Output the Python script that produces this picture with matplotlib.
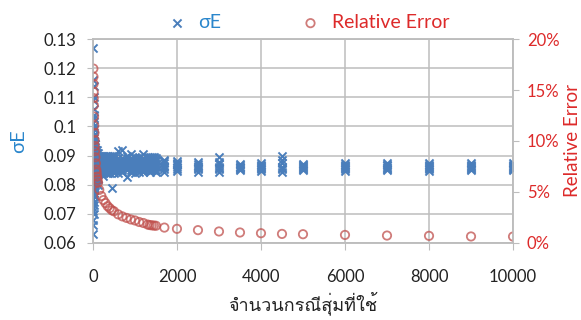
import matplotlib
matplotlib.use("Agg")
from matplotlib import pyplot as plt
from matplotlib import font_manager
from matplotlib.ft2font import FT2Font
from matplotlib.ticker import FuncFormatter

# sample sizes (number of random cases)
n_cases = [10, 12, 14, 16, 18, 20, 25, 30, 35, 40, 45, 50, 60, 70, 80, 90, 100,
           110, 120, 150, 200, 250, 300, 350, 400, 450, 500, 600, 700, 800, 900,
           1000, 1100, 1200, 1300, 1350, 1400, 1450, 1500, 1700, 2000, 2500,
           3000, 3500, 4000, 4500, 5000, 6000, 7000, 8000, 9000, 10000]

# sigma E from repeated runs at each sample size
sigma_e = [
    [0.127, 0.063, 0.066, 0.075, 0.098, 0.082, 0.109, 0.071],
    [0.116, 0.072, 0.084, 0.091, 0.079, 0.101, 0.068, 0.088],
    [0.114, 0.077, 0.093, 0.086, 0.070, 0.104, 0.081, 0.095],
    [0.110, 0.074, 0.089, 0.097, 0.083, 0.078, 0.092, 0.086],
    [0.106, 0.076, 0.091, 0.084, 0.099, 0.080, 0.087, 0.073],
    [0.103, 0.078, 0.088, 0.094, 0.082, 0.090, 0.076, 0.085],
    [0.100, 0.079, 0.087, 0.092, 0.084, 0.096, 0.081, 0.089],
    [0.097, 0.080, 0.090, 0.086, 0.083, 0.093, 0.077, 0.088],
    [0.095, 0.081, 0.087, 0.091, 0.084, 0.089, 0.079, 0.093],
    [0.094, 0.082, 0.088, 0.085, 0.090, 0.086, 0.080, 0.092],
    [0.093, 0.083, 0.089, 0.086, 0.091, 0.084, 0.088, 0.081],
    [0.092, 0.083, 0.087, 0.090, 0.085, 0.088, 0.082, 0.094],
    [0.091, 0.084, 0.088, 0.086, 0.090, 0.083, 0.089, 0.087],
    [0.092, 0.085, 0.087, 0.089, 0.084, 0.090, 0.086, 0.082],
    [0.091, 0.084, 0.088, 0.086, 0.090, 0.085, 0.087, 0.083],
    [0.090, 0.085, 0.087, 0.089, 0.084, 0.088, 0.086, 0.092],
    [0.091, 0.084, 0.088, 0.086, 0.089, 0.085, 0.087, 0.083],
    [0.090, 0.085, 0.087, 0.089, 0.084, 0.088, 0.086, 0.082],
    [0.091, 0.085, 0.088, 0.086, 0.089, 0.084, 0.087, 0.080],
    [0.090, 0.085, 0.087, 0.089, 0.084, 0.088, 0.086],
    [0.089, 0.084, 0.087, 0.090, 0.085, 0.088, 0.086],
    [0.090, 0.085, 0.087, 0.089, 0.084, 0.088, 0.083],
    [0.089, 0.085, 0.088, 0.086, 0.090, 0.084, 0.087],
    [0.090, 0.084, 0.087, 0.089, 0.085, 0.088, 0.086],
    [0.089, 0.085, 0.087, 0.090, 0.084, 0.088, 0.086],
    [0.090, 0.079, 0.087, 0.089, 0.085, 0.088, 0.086],
    [0.089, 0.085, 0.087, 0.090, 0.084, 0.088, 0.086],
    [0.0915, 0.085, 0.087, 0.089, 0.084, 0.088, 0.086],
    [0.0918, 0.085, 0.087, 0.089, 0.0845, 0.088, 0.086],
    [0.090, 0.0825, 0.087, 0.089, 0.085, 0.088, 0.086],
    [0.089, 0.085, 0.087, 0.0905, 0.0845, 0.088, 0.086],
    [0.0895, 0.085, 0.087, 0.089, 0.084, 0.088, 0.086],
    [0.089, 0.0855, 0.087, 0.0895, 0.0845, 0.088, 0.086],
    [0.0905, 0.085, 0.087, 0.089, 0.0845, 0.088, 0.086],
    [0.089, 0.0855, 0.087, 0.0895, 0.085, 0.088, 0.086],
    [0.0895, 0.085, 0.087, 0.089, 0.0845, 0.088, 0.086],
    [0.089, 0.0855, 0.087, 0.0895, 0.085, 0.088, 0.086],
    [0.0895, 0.0855, 0.0865, 0.089, 0.085, 0.088, 0.087],
    [0.089, 0.085, 0.087, 0.0885, 0.0845, 0.088, 0.086],
    [0.0885, 0.0845, 0.0865, 0.0875, 0.0855, 0.088, 0.086],
    [0.088, 0.0848, 0.0862, 0.0872, 0.0855, 0.0876, 0.0866],
    [0.0878, 0.0845, 0.086, 0.087, 0.0852, 0.0865, 0.0856],
    [0.0895, 0.0842, 0.086, 0.087, 0.0852, 0.0878, 0.0856],
    [0.0872, 0.085, 0.086, 0.0866, 0.0855, 0.0862, 0.0858],
    [0.0874, 0.0848, 0.086, 0.0868, 0.0854, 0.0864, 0.0858],
    [0.0898, 0.0843, 0.0862, 0.0885, 0.0852, 0.0874, 0.0858],
    [0.0872, 0.0849, 0.0859, 0.0866, 0.0853, 0.0863, 0.0856],
    [0.0874, 0.0848, 0.086, 0.0868, 0.0854, 0.0864, 0.0858],
    [0.0876, 0.085, 0.0861, 0.0869, 0.0855, 0.0866, 0.0858],
    [0.0873, 0.0847, 0.086, 0.0867, 0.0853, 0.0864, 0.0857],
    [0.0874, 0.0849, 0.086, 0.0868, 0.0854, 0.0864, 0.0857],
    [0.0875, 0.0849, 0.0861, 0.0869, 0.0854, 0.0865, 0.0858],
]

# relative error (fraction) at each sample size
rel_error = [0.171, 0.163, 0.156, 0.148, 0.142, 0.135, 0.124, 0.115, 0.108,
             0.101, 0.095, 0.090, 0.084, 0.078, 0.072, 0.069, 0.065, 0.062,
             0.059, 0.052, 0.046, 0.042, 0.039, 0.036, 0.034, 0.032, 0.031,
             0.028, 0.026, 0.0245, 0.023, 0.022, 0.0205, 0.0195, 0.018,
             0.0175, 0.0172, 0.017, 0.0168, 0.015, 0.0138, 0.0125, 0.0112,
             0.0102, 0.0095, 0.0088, 0.0085, 0.0078, 0.0072, 0.0069, 0.0063,
             0.0062]

x_ticks = [0, 2000, 4000, 6000, 8000, 10000]
left_ticks = [0.06, 0.07, 0.08, 0.09, 0.1, 0.11, 0.12, 0.13]
right_ticks = [0, 0.05, 0.10, 0.15, 0.20]


def thai_font():
    # first installed font that has Thai glyphs
    for f in font_manager.fontManager.ttflist:
        try:
            if ord("จ") in FT2Font(f.fname).get_charmap():
                return f.name
        except Exception:
            pass
    return None


base = ["Lato", "DejaVu Sans"]
th = thai_font()
plt.rcParams["font.family"] = base
label_family = [th] + base if th else base

blue = "#4a7ebb"
red = "#c0504d"
grid_c = "#bdbdbd"
blue_txt = "#2a86cc"
red_txt = "#dd2a2a"

xs, ys = [], []
for n, runs in zip(n_cases, sigma_e):
    for v in runs:
        xs.append(n)
        ys.append(v)

fig = plt.figure(figsize=(5.81, 3.2), dpi=100)
ax = fig.add_axes([0.160, 0.241, 0.723, 0.637])
ax2 = ax.twinx()

h1 = ax.scatter(xs, ys, marker="x", s=34, color=blue, linewidths=1.4,
                zorder=3, label="σE")
h2 = ax2.scatter(n_cases, rel_error, marker="o", s=36, facecolors="none",
                 edgecolors=red, linewidths=1.3, alpha=0.75, zorder=2,
                 label="Relative Error")

ax.set_xlim(0, 10000)
ax.set_ylim(0.06, 0.13)
ax2.set_ylim(0, 0.20)
ax.set_xticks(x_ticks)
ax.set_yticks(left_ticks)
ax2.set_yticks(right_ticks)
ax.yaxis.set_major_formatter(FuncFormatter(lambda v, p: "%g" % round(v, 2)))
ax2.yaxis.set_major_formatter(FuncFormatter(lambda v, p: "%d%%" % round(v * 100)))

ax.grid(True, color=grid_c, linewidth=1.1)
ax.set_axisbelow(True)
for a in (ax, ax2):
    for s in a.spines.values():
        s.set_color(grid_c)
        s.set_linewidth(1.1)

ax.tick_params(axis="x", length=5, color=grid_c, labelsize=12, pad=14,
               labelcolor="#222222")
ax.tick_params(axis="y", length=4, color=grid_c, labelsize=12, pad=8,
               labelcolor="#222222")
ax2.tick_params(axis="y", length=4, color=grid_c, labelsize=12, pad=6,
                labelcolor=red_txt)

ax.set_ylabel("σE", fontsize=14.5, color=blue_txt, labelpad=12)
ax2.set_ylabel("Relative Error", fontsize=13.5, color=red_txt, labelpad=3)
ax.set_xlabel("จำนวนกรณีสุ่มที่ใช้", fontsize=13, color="#222222",
              family=label_family, labelpad=4)

leg = ax.legend([h1, h2], ["σE", "Relative Error"], loc="lower center",
                bbox_to_anchor=(0.51, 1.0), ncol=2, frameon=False,
                fontsize=14, columnspacing=4.0, handletextpad=0.5,
                borderaxespad=0.0, handlelength=1.2)
for t, c in zip(leg.get_texts(), [blue_txt, red_txt]):
    t.set_color(c)

fig.savefig("out.png", dpi=100)
